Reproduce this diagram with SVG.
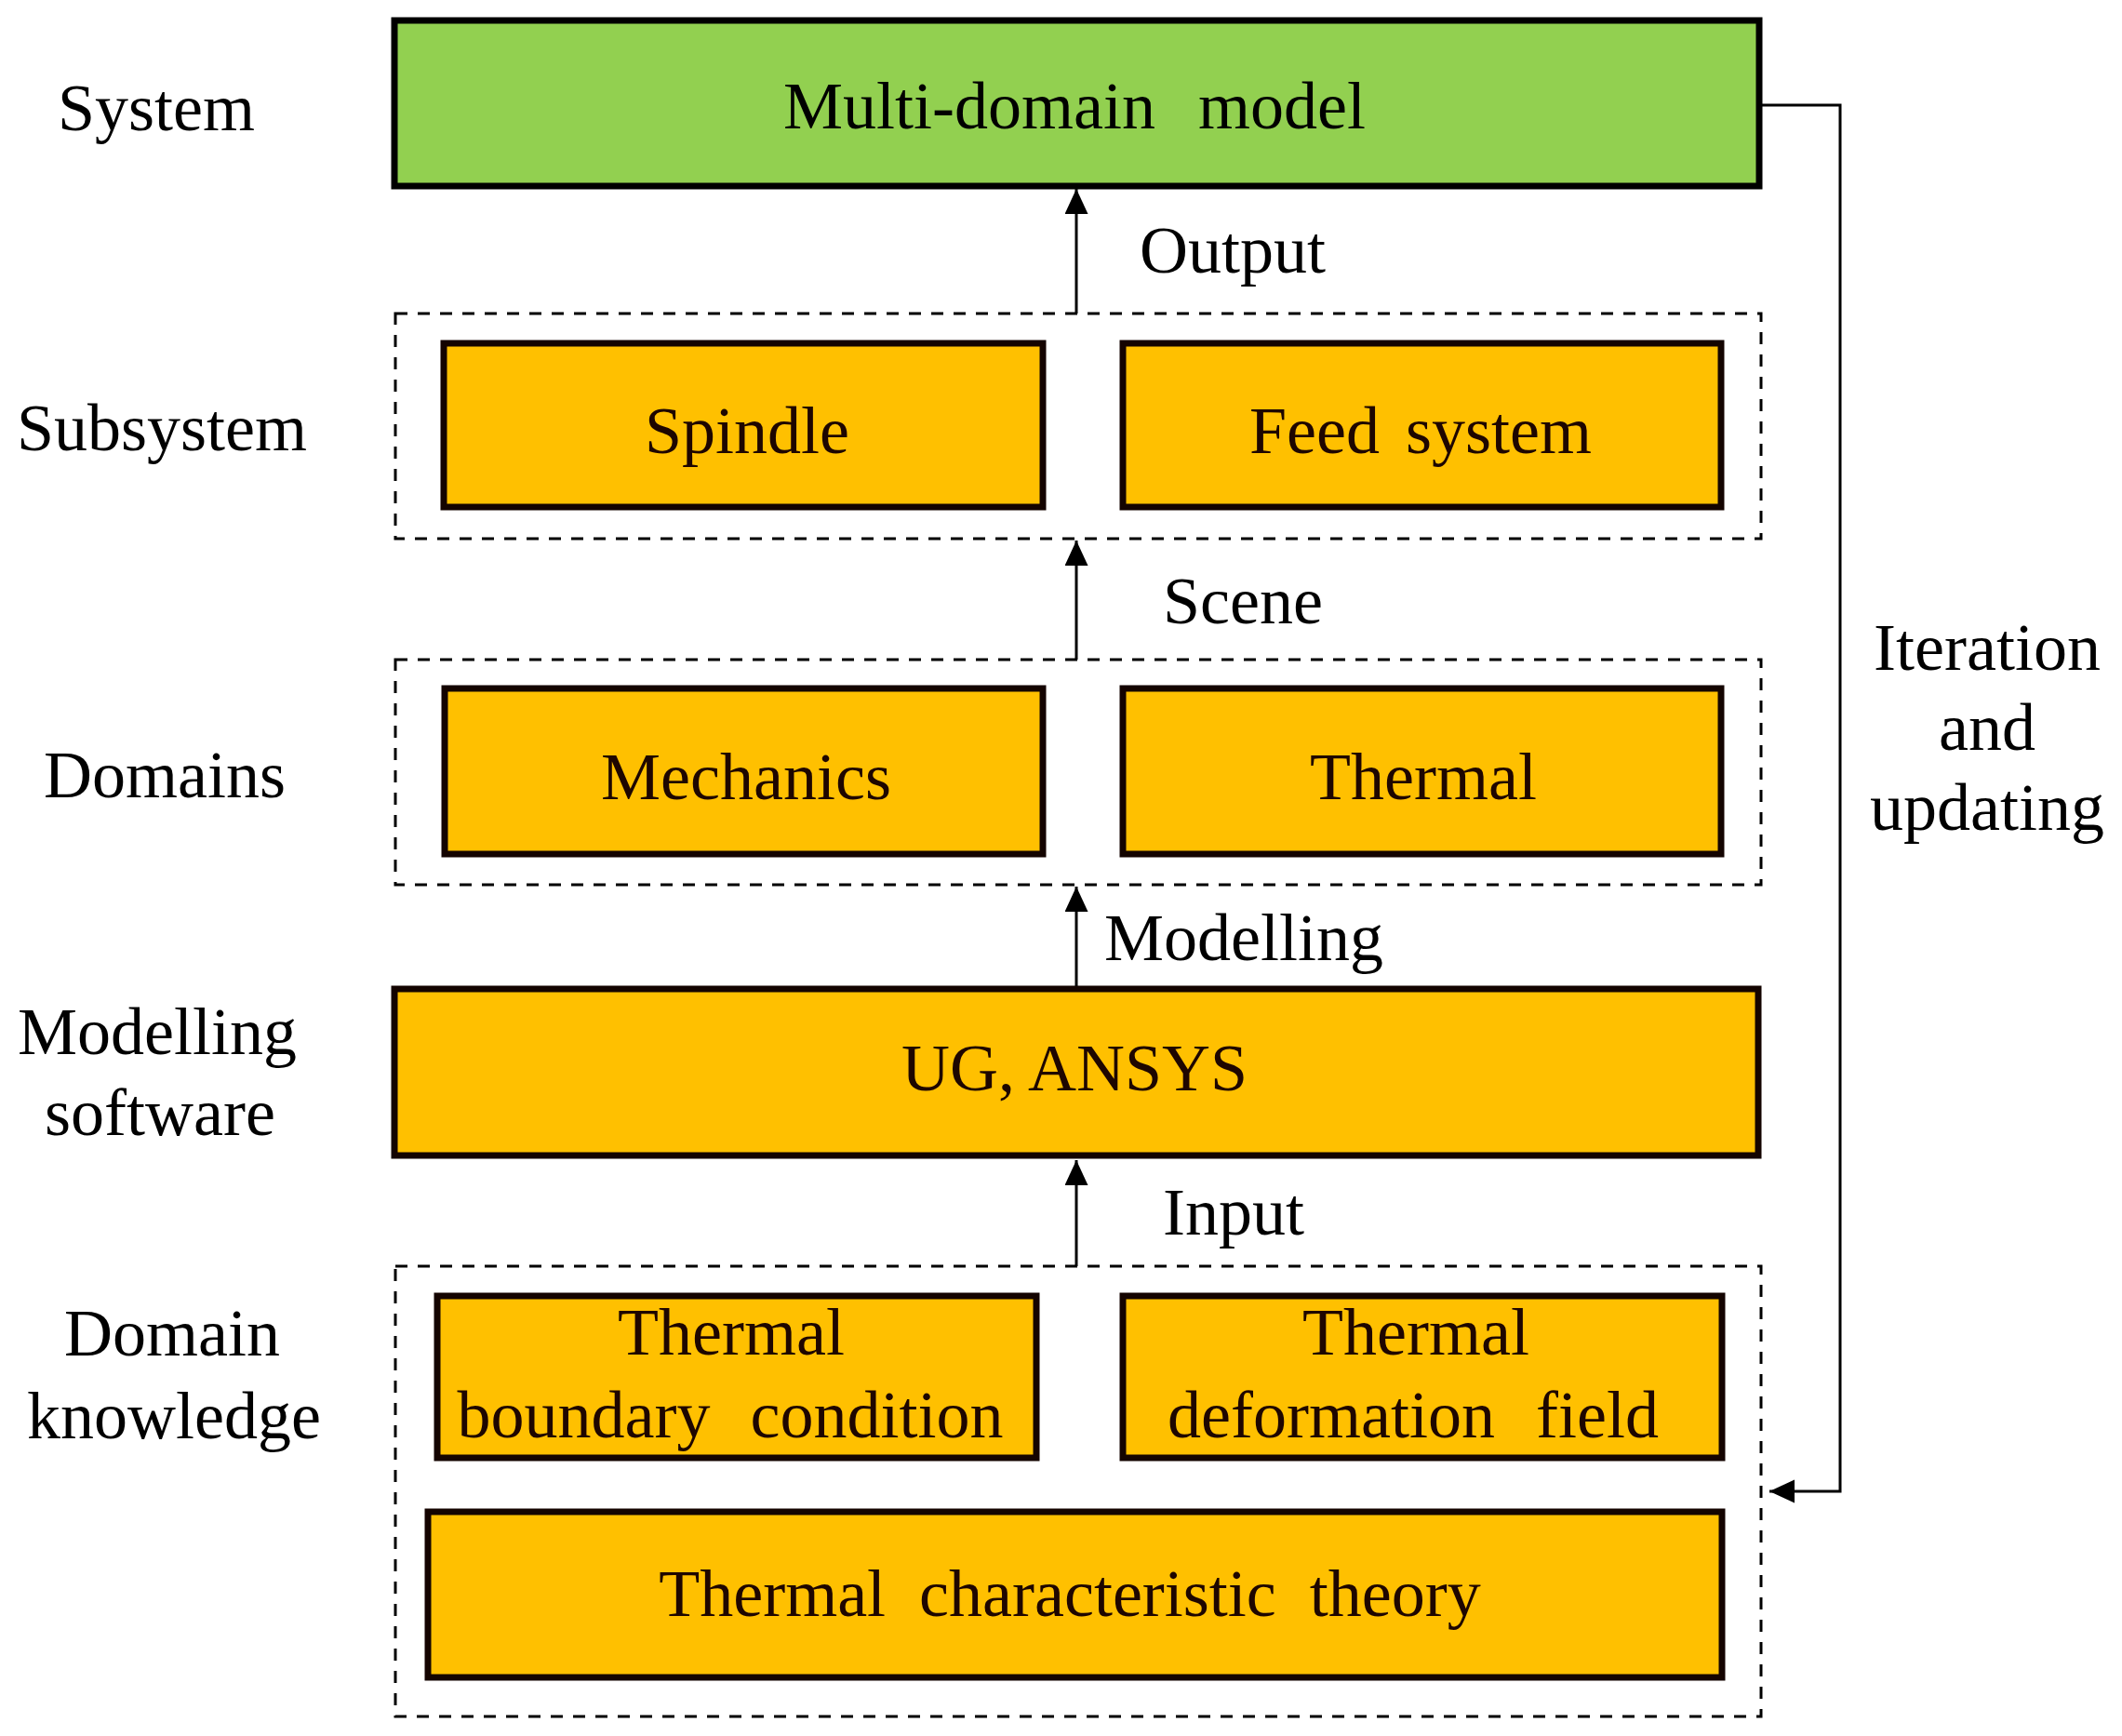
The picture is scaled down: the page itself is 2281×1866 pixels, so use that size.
<svg xmlns="http://www.w3.org/2000/svg" width="2281" height="1866" viewBox="0 0 2281 1866">
<style>
text{font-family:"Liberation Serif","Times New Roman",serif;font-size:72px;fill:#000}
.box{fill:#FFC000;stroke:#140400;stroke-width:7}
.green{fill:#92D050;stroke:#000;stroke-width:7}
.grp{fill:none;stroke:#000;stroke-width:3;stroke-dasharray:13 11}
.bt{fill:#1e0600;text-anchor:middle}
.m{text-anchor:middle}
.conn{fill:none;stroke:#000;stroke-width:3}
</style>
<defs>
<marker id="ah" markerUnits="userSpaceOnUse" markerWidth="28" markerHeight="26" refX="27" refY="12.5" orient="auto">
<path d="M0,0 L27,12.5 L0,25 z" fill="#000"/>
</marker>
</defs>
<rect width="2281" height="1866" fill="#fff"/>
<g id="levels">
<text class="m" x="168" y="140">System</text>
<text class="m" x="174" y="484">Subsystem</text>
<text class="m" x="177" y="857">Domains</text>
<text class="m" x="169" y="1133">Modelling</text>
<text class="m" x="172" y="1220">software</text>
<text class="m" x="185" y="1457">Domain</text>
<text class="m" x="187" y="1546">knowledge</text>
</g>
<g id="group-subsystem"><rect class="grp" x="425" y="337" width="1468" height="242"/></g>
<g id="group-domains"><rect class="grp" x="425" y="709" width="1468" height="242"/></g>
<g id="group-knowledge"><rect class="grp" x="425" y="1361" width="1468" height="484"/></g>
<g id="multi-domain-model">
<rect class="green" x="424" y="22" width="1467" height="178"/>
<text class="m" x="1155" y="138" word-spacing="28">Multi-domain model</text>
</g>
<g id="spindle">
<rect class="box" x="477" y="369" width="644" height="176"/>
<text class="bt" x="803" y="487">Spindle</text>
</g>
<g id="feed-system">
<rect class="box" x="1207" y="369" width="643" height="176"/>
<text class="bt" x="1527" y="487" word-spacing="10">Feed system</text>
</g>
<g id="mechanics">
<rect class="box" x="478" y="740" width="643" height="178"/>
<text class="bt" x="802" y="859">Mechanics</text>
</g>
<g id="thermal">
<rect class="box" x="1207" y="740" width="643" height="178"/>
<text class="bt" x="1530" y="859">Thermal</text>
</g>
<g id="ug-ansys">
<rect class="box" x="424" y="1063" width="1466" height="179"/>
<text class="bt" x="1155" y="1172">UG, ANSYS</text>
</g>
<g id="thermal-boundary-condition">
<rect class="box" x="470" y="1393" width="644" height="174"/>
<text class="bt" x="786" y="1456">Thermal</text>
<text class="bt" x="785" y="1545" word-spacing="25">boundary condition</text>
</g>
<g id="thermal-deformation-field">
<rect class="box" x="1207" y="1393" width="644" height="174"/>
<text class="bt" x="1522" y="1456">Thermal</text>
<text class="bt" x="1519" y="1545" word-spacing="26">deformation field</text>
</g>
<g id="thermal-characteristic-theory">
<rect class="box" x="460" y="1625" width="1391" height="178"/>
<text class="bt" x="1150" y="1737" word-spacing="18">Thermal characteristic theory</text>
</g>
<g id="connectors">
<line class="conn" x1="1157" y1="337" x2="1157" y2="203" marker-end="url(#ah)"/>
<line class="conn" x1="1157" y1="709" x2="1157" y2="581" marker-end="url(#ah)"/>
<line class="conn" x1="1157" y1="1060" x2="1157" y2="953" marker-end="url(#ah)"/>
<line class="conn" x1="1157" y1="1361" x2="1157" y2="1247" marker-end="url(#ah)"/>
<polyline class="conn" points="1894,113 1978,113 1978,1603 1902,1603" marker-end="url(#ah)"/>
<text x="1225" y="293">Output</text>
<text x="1250" y="670">Scene</text>
<text x="1187" y="1032">Modelling</text>
<text x="1250" y="1327">Input</text>
<text class="m" x="2136" y="720">Iteration</text>
<text class="m" x="2136" y="806">and</text>
<text class="m" x="2136" y="892">updating</text>
</g>
</svg>
